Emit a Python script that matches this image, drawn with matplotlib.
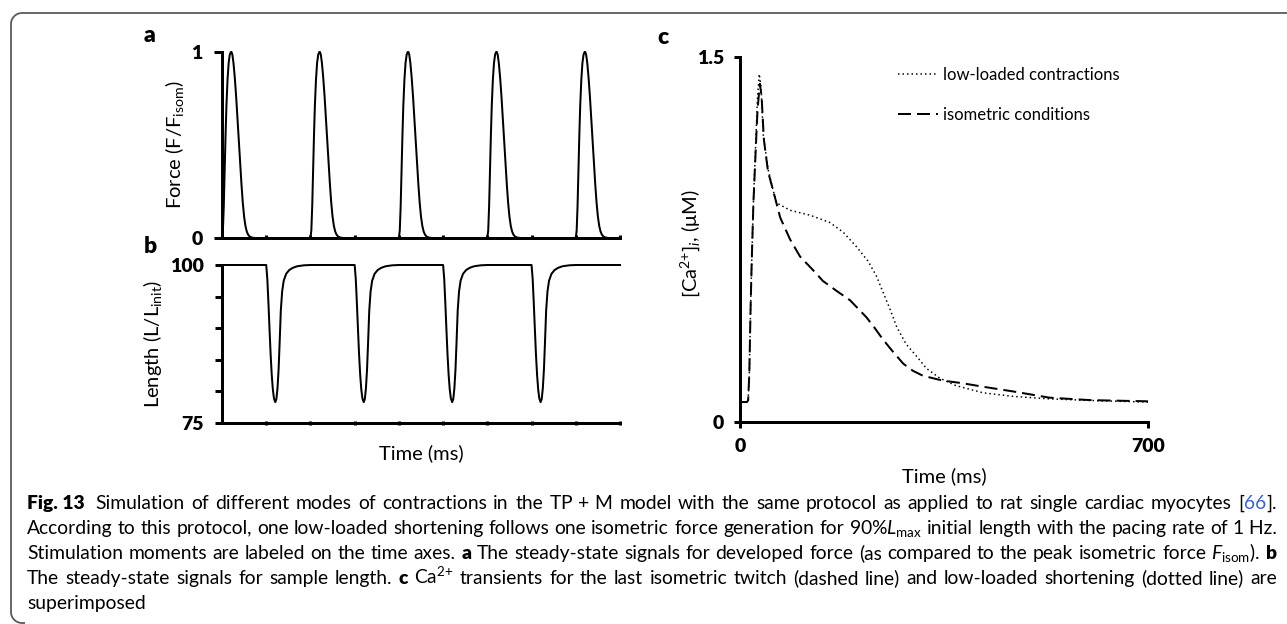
import numpy as np
import matplotlib
matplotlib.use("Agg")
import matplotlib.pyplot as plt
from matplotlib.path import Path
from matplotlib.patches import PathPatch

plt.rcParams['font.family'] = ['Lato', 'DejaVu Sans']
plt.rcParams['mathtext.fontset'] = 'custom'
plt.rcParams['mathtext.rm'] = 'Lato'
plt.rcParams['mathtext.it'] = 'Lato:italic'
plt.rcParams['mathtext.bf'] = 'Lato:heavy'

# ---------------- data ----------------
# (a) isometric twitch: time after stimulus (ms) and force (F/F_isom)
twitch_t = [0, 20, 40, 60, 80, 100, 125, 150, 175, 200, 215, 235, 260, 290,
            320, 350, 380, 410, 440, 470, 500, 530, 560, 590, 630, 680, 750]
twitch_f = [0, 0.04, 0.17, 0.36, 0.55, 0.71, 0.85, 0.94, 0.985, 1.0, 1.0,
            0.985, 0.94, 0.86, 0.76, 0.64, 0.52, 0.40, 0.29, 0.19, 0.115,
            0.065, 0.035, 0.018, 0.007, 0.002, 0]

# (b) low-loaded shortening: time after stimulus (ms) and length (% of L_init)
dip_t = [0, 25, 50, 75, 100, 125, 150, 175, 205, 230, 255, 280, 305, 330,
         360, 395, 450, 520, 600, 700, 850, 1000]
dip_l = [100, 97.8, 94.0, 89.8, 85.8, 82.6, 80.3, 78.9, 78.3, 78.8, 80.5,
         83.5, 88.0, 92.8, 95.8, 97.5, 98.6, 99.2, 99.55, 99.8, 99.95, 100]

isometric_stim = [0, 2000, 4000, 6000, 8000]
lowload_stim = [1000, 3000, 5000, 7000]
stim_ticks = [1000, 2000, 3000, 4000, 5000, 6000, 7000, 8000, 9000]
t_end = 9000

# (c) Ca2+ transients: time (ms) and [Ca2+]i (uM)
ca_low_t = [0, 12, 14, 16, 18, 20, 23, 27, 30, 33, 36, 40, 48, 57, 63, 86,
            120, 154, 177, 200, 220, 234, 246, 258, 269, 285, 303, 320, 343,
            370, 417, 470, 531, 620, 700]
ca_low = [0.082, 0.082, 0.09, 0.2, 0.45, 0.65, 0.9, 1.15, 1.33, 1.43, 1.38,
          1.18, 1.04, 0.95, 0.90, 0.87, 0.85, 0.82, 0.78, 0.72, 0.66, 0.60,
          0.53, 0.46, 0.39, 0.32, 0.27, 0.22, 0.18, 0.15, 0.12, 0.105, 0.095,
          0.087, 0.082]
ca_iso_t = [0, 12, 14, 16, 18, 20, 23, 27, 30, 34, 37, 41, 48, 57, 69, 86,
            103, 131, 142, 165, 189, 205, 217, 230, 245, 262, 280, 297, 314,
            348, 380, 417, 470, 531, 600, 700]
ca_iso = [0.082, 0.082, 0.09, 0.2, 0.45, 0.65, 0.9, 1.12, 1.28, 1.39, 1.34,
          1.16, 1.03, 0.95, 0.84, 0.75, 0.68, 0.61, 0.58, 0.54, 0.50, 0.46,
          0.43, 0.39, 0.34, 0.29, 0.24, 0.21, 0.19, 0.17, 0.16, 0.145, 0.125,
          0.10, 0.09, 0.085]

# full steady-state traces for panels a and b
force_t, force_v = [], []
for s in isometric_stim:
    force_t += [s + t for t in twitch_t]
    force_v += twitch_f
force_t.append(t_end)
force_v.append(0)

len_t, len_v = [0], [100]
for s in lowload_stim:
    len_t += [s + t for t in dip_t]
    len_v += dip_l
len_t.append(t_end)
len_v.append(100)

# ---------------- figure ----------------
W, H = 1287, 624
fig = plt.figure(figsize=(W / 100, H / 100), dpi=100)
PX = 0.72  # points per pixel


def box(l, t, r, b):
    return [l / W, 1 - b / H, (r - l) / W, (b - t) / H]


SPINE = 3 * PX
LINE = 2 * PX
TICKFS = 14
TICKW = 'heavy'
LABELFS = 14.5


def style(ax):
    for s in ('top', 'right'):
        ax.spines[s].set_visible(False)
    for s in ('left', 'bottom'):
        ax.spines[s].set_linewidth(SPINE)
        ax.spines[s].set_capstyle('projecting')
    ax.set_facecolor('none')


# panel a: force
ax_a = fig.add_axes(box(222, 52, 620, 238))
style(ax_a)
ax_a.plot(force_t, force_v, color='black', lw=LINE, clip_on=False)
ax_a.set_xlim(0, t_end)
ax_a.set_ylim(0, 1)
ax_a.set_yticks([0, 1])
ax_a.set_yticklabels(['0', '1'], fontsize=TICKFS, fontweight=TICKW)
ax_a.tick_params(axis='y', direction='out', length=8 * PX, width=SPINE, pad=8)
ax_a.set_xticks(stim_ticks)
ax_a.set_xticklabels([])
ax_a.tick_params(axis='x', direction='in', length=3 * PX, width=SPINE)
ax_a.set_ylabel(r'Force (F/F$_{\mathrm{isom}}$)', fontsize=LABELFS, labelpad=4)

# panel b: length
ax_b = fig.add_axes(box(222, 265, 620, 423))
style(ax_b)
ax_b.plot(len_t, len_v, color='black', lw=LINE, clip_on=False)
ax_b.set_xlim(0, t_end)
ax_b.set_ylim(75, 100)
ax_b.set_yticks([75, 80, 85, 90, 95, 100])
ax_b.set_yticklabels(['75', '', '', '', '', '100'], fontsize=TICKFS,
                     fontweight=TICKW)
ax_b.tick_params(axis='y', direction='out', length=7 * PX, width=SPINE, pad=8)
ax_b.set_xticks(stim_ticks)
ax_b.set_xticklabels([])
ax_b.tick_params(axis='x', direction='inout', length=5 * PX, width=SPINE)
ax_b.set_ylabel(r'Length (L/L$_{\mathrm{init}}$)', fontsize=LABELFS, labelpad=4)
ax_b.set_xlabel('Time (ms)', fontsize=LABELFS, labelpad=10)

# panel c: Ca2+ transients
ax_c = fig.add_axes(box(740, 57, 1148, 422))
style(ax_c)
ax_c.plot(ca_low_t, ca_low, color='black', lw=1.5 * PX, dashes=(1, 2),
          label='low-loaded contractions', clip_on=False)
ax_c.plot(ca_iso_t, ca_iso, color='black', lw=LINE, dashes=(6.5, 3),
          label='isometric conditions', clip_on=False)
ax_c.set_xlim(0, 700)
ax_c.set_ylim(0, 1.5)
ax_c.set_yticks([0, 1.5])
ax_c.set_yticklabels(['0', '1.5'], fontsize=TICKFS, fontweight=TICKW)
ax_c.set_xticks([0, 700])
ax_c.set_xticklabels(['0', '700'], fontsize=TICKFS, fontweight=TICKW)
ax_c.tick_params(axis='both', direction='out', length=6 * PX, width=SPINE,
                 pad=7)
ax_c.set_ylabel(r'[Ca$^{2{+}}$]$_{i}$, (μM)', fontsize=LABELFS)
ax_c.yaxis.set_label_coords(-0.092, 0.49)
ax_c.set_xlabel('Time (ms)', fontsize=LABELFS, labelpad=9)
ax_c.legend(loc='upper left', bbox_to_anchor=(898 / W, 1 - 67 / H),
            bbox_transform=fig.transFigure, frameon=False, fontsize=12,
            handlelength=2.4, handletextpad=0.3, labelspacing=1.45,
            borderaxespad=0, borderpad=0)

# panel letters
for letter, (x, y) in {'a': (150, 35), 'b': (150, 247), 'c': (663, 37)}.items():
    fig.text(x / W, 1 - y / H, letter, fontsize=16.5, fontweight='heavy',
             ha='center', va='center')

# rounded frame along top and left edge
r = 11
x0, y0 = 11, 13
ang1 = np.linspace(np.pi / 2, np.pi, 12)
ang2 = np.linspace(np.pi, 3 * np.pi / 2, 12)
px = [W + 5] + list(x0 + r + r * np.cos(ang1)) + list(x0 + r + r * np.cos(ang2)) + [x0 + r + 3]
py = [y0] + list(y0 + r - r * np.sin(ang1)) + list(H - 1 - r - r * np.sin(ang2)) + [H - 1]
verts = [(a / W, 1 - b / H) for a, b in zip(px, py)]
fig.add_artist(PathPatch(Path(verts), fill=False, edgecolor='#5a5a5a',
                         lw=1.3, transform=fig.transFigure))

# ---------------- caption (justified paragraph) ----------------
CAPFS = 13.9
CAP_LEFT, CAP_RIGHT = 27, 1277
renderer = fig.canvas.get_renderer()
BOLD = {'fontweight': 'heavy'}
LINK = {'color': '#3a64c8'}


def text_width(s, **kw):
    t = fig.text(0, 0, s, fontsize=CAPFS, **kw)
    w = t.get_window_extent(renderer).width
    t.remove()
    return w


SPACE = text_width('a a') - text_width('aa')


def caption_line(y_center, words, justify=True):
    """Place words (plain strings or lists of (text, props) pieces)."""
    groups = []
    for w in words:
        pieces = [(w, {})] if isinstance(w, str) else w
        arts = []
        width = 0.0
        for txt, kw in pieces:
            t = fig.text(0, 0, txt, fontsize=CAPFS, ha='left', va='baseline', **kw)
            arts.append(t)
            width += t.get_window_extent(renderer).width
        groups.append((arts, width))
    total = sum(g[1] for g in groups)
    gap = SPACE
    if justify and len(groups) > 1:
        gap = (CAP_RIGHT - CAP_LEFT - total) / (len(groups) - 1)
    x = CAP_LEFT
    y = 1 - (y_center + 6) / H
    for k, (arts, width) in enumerate(groups):
        xx = x
        for t in arts:
            t.set_position((xx / W, y))
            xx += t.get_window_extent(renderer).width
        x += width + gap


line1 = ([[('Fig. 13 ', BOLD)]] +
         'Simulation of different modes of contractions in the'.split() +
         [r'TP$\,+\,$M'] +
         ('model with the same protocol as applied to rat single cardiac '
          'myocytes').split() +
         [[('[', {}), ('66', LINK), ('].', {})]])
line2 = ('According to this protocol, one low-loaded shortening follows one '
         'isometric force generation for').split() + \
        [r'90%$L_{\mathrm{max}}$'] + \
        'initial length with the pacing rate of'.split() + ['1 Hz.']
line3 = 'Stimulation moments are labeled on the time axes.'.split() + \
        [[('a', BOLD)]] + \
        ('The steady-state signals for developed force (as compared to the '
         'peak isometric force').split() + \
        [r'$F_{\mathrm{isom}}$).', [('b', BOLD)]]
line4 = 'The steady-state signals for sample length.'.split() + \
        [[('c', BOLD)], r'Ca$^{2{+}}$'] + \
        ('transients for the last isometric twitch (dashed line) and '
         'low-loaded shortening (dotted line) are').split()
line5 = ['superimposed']

for i, (ln, just) in enumerate([(line1, True), (line2, True), (line3, True),
                                (line4, True), (line5, False)]):
    caption_line(503 + 25 * i, ln, justify=just)

fig.savefig('out.png', dpi=100)
